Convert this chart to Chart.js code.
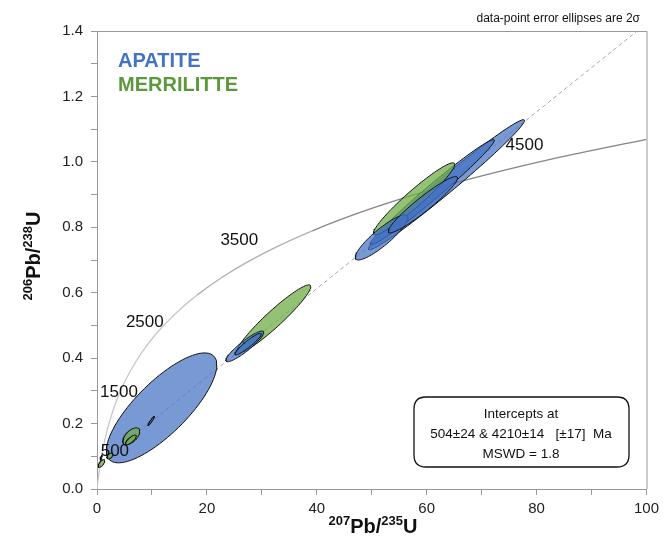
<!DOCTYPE html>
<html>
<head>
<meta charset="utf-8">
<script src="https://cdn.jsdelivr.net/npm/chart.js@4/dist/chart.umd.min.js"></script>
<style>
html,body{margin:0;padding:0;background:#fff;}
#wrap{width:664px;height:550px;position:relative;}
</style>
</head>
<body>
<div id="wrap"><canvas id="c" width="664" height="550"></canvas></div>
<script>
// ---- Data ----
// Concordia curve points (207Pb/235U, 206Pb/238U)
const concordiaX = [0, 0.1035, 0.2792, 0.6363, 1.0931, 1.6774, 2.4249, 3.3812, 4.6046, 6.1688, 8.1704, 10.7305, 14.006, 18.194, 23.553, 30.405, 39.175, 50.387, 64.733, 83.08, 100];
const concordiaY = [0, 0.01563, 0.03954, 0.08065, 0.12338, 0.16781, 0.21398, 0.26200, 0.31189, 0.36375, 0.41767, 0.47370, 0.53200, 0.59265, 0.65559, 0.72104, 0.78907, 0.85983, 0.93339, 1.00984, 1.0687];
// Age labels on concordia
const ageLabels = ['500', '1500', '2500', '3500', '4500'];
const ageLabelX = [3.25, 4.0, 8.7, 25.9, 77.8];
const ageLabelY = [0.116, 0.297, 0.511, 0.761, 1.052];
// Discordia (regression) line
const discordiaX = [0.64, 98.3];
const discordiaY = [0.081, 1.40];
// Apatite error ellipses: centre, half-extents, correlation
const apatiteX   = [11.75, 9.86, 26.9, 27.5, 63.6, 61.0, 51.8, 59.3, 0.75];
const apatiteY   = [0.248, 0.208, 0.436, 0.443, 0.930, 0.907, 0.769, 0.869, 0.095];
const apatiteSx  = [10.05, 0.6, 3.44, 2.4, 14.2, 11.3, 4.8, 6.3, 0.2];
const apatiteSy  = [0.168, 0.014, 0.047, 0.033, 0.199, 0.161, 0.069, 0.086, 0.008];
const apatiteRho = [0.78, 0.95, 0.909, 0.93, 0.987, 0.985, 0.884, 0.947, 0.8];
// Merrillite error ellipses
const merrX   = [32.2, 57.7, 6.24, 6.15, 2.35, 0.81];
const merrY   = [0.520, 0.887, 0.161, 0.150, 0.101, 0.078];
const merrSx  = [6.7, 7.4, 1.54, 1.0, 0.55, 0.6];
const merrSy  = [0.104, 0.110, 0.026, 0.015, 0.009, 0.012];
const merrRho = [0.948, 0.955, 0.6, 0.8, 0.5, 0.7];
// Draw order, bottom to top: [group, index]
const drawOrder = [['A',0],['M',2],['M',3],['M',4],['M',5],['A',1],['A',8],['M',0],['A',2],['A',3],['A',4],['A',5],['M',1],['A',6],['A',7]];

const blueFill = 'rgba(68,114,196,0.72)';
const greenFill = 'rgba(112,173,71,0.75)';

function ellipsePoints(cx, cy, sx, sy, rho) {
  const pts = [];
  const s = Math.sqrt(1 - rho * rho);
  for (let i = 0; i <= 90; i++) {
    const t = i / 90 * Math.PI * 2;
    pts.push({x: cx + sx * Math.cos(t), y: cy + sy * (rho * Math.cos(t) + s * Math.sin(t))});
  }
  return pts;
}

const datasets = [];
// Chart.js draws dataset index 0 last (on top) when order is equal, so insert reversed
drawOrder.slice().reverse().forEach(([g, i]) => {
  const isA = g === 'A';
  const pts = isA ? ellipsePoints(apatiteX[i], apatiteY[i], apatiteSx[i], apatiteSy[i], apatiteRho[i])
                  : ellipsePoints(merrX[i], merrY[i], merrSx[i], merrSy[i], merrRho[i]);
  datasets.push({
    type: 'line', data: pts, showLine: true, fill: 'shape',
    backgroundColor: isA ? blueFill : greenFill,
    borderColor: '#111', borderWidth: 1, pointRadius: 0, tension: 0, order: 1
  });
});
// concordia and discordia drawn beneath ellipses
datasets.push({
  type: 'line', data: concordiaX.map((x, i) => ({x, y: concordiaY[i]})),
  showLine: true, fill: false, borderWidth: 1.3, pointRadius: 0, cubicInterpolationMode: 'monotone',
  borderColor: '#999',
  segment: { borderColor: c => (c.p0.parsed.x >= 35 ? '#858585' : (c.p0.parsed.x >= 18 ? '#b0b0b0' : '#c8c8c8')) },
  order: 3
});
datasets.push({
  type: 'line', data: discordiaX.map((x, i) => ({x, y: discordiaY[i]})),
  showLine: true, fill: false, borderWidth: 1, borderDash: [4, 3], pointRadius: 0,
  borderColor: '#a8a8a8', order: 2
});

const FONT = '"Liberation Sans", Arial, sans-serif';

const overlay = {
  id: 'overlay',
  afterDatasetsDraw(chart) {
    const ctx = chart.ctx, xs = chart.scales.x, ys = chart.scales.y, a = chart.chartArea;
    ctx.save();
    // frame top/right
    ctx.strokeStyle = '#999'; ctx.lineWidth = 1;
    ctx.beginPath();
    ctx.moveTo(a.left, a.top + 0.5); ctx.lineTo(a.right + 0.5, a.top + 0.5); ctx.lineTo(a.right + 0.5, a.bottom);
    ctx.stroke();
    // age labels
    ctx.fillStyle = '#111'; ctx.font = '17px ' + FONT; ctx.textAlign = 'center'; ctx.textBaseline = 'middle';
    ageLabels.forEach((t, i) => ctx.fillText(t, xs.getPixelForValue(ageLabelX[i]), ys.getPixelForValue(ageLabelY[i])));
    // legend-like titles
    ctx.textAlign = 'left'; ctx.textBaseline = 'alphabetic';
    ctx.font = 'bold 20px ' + FONT;
    ctx.fillStyle = '#4472C4'; ctx.fillText('APATITE', 118, 67);
    ctx.fillStyle = '#5B9A3C'; ctx.fillText('MERRILITTE', 118, 91);
    // top note
    ctx.fillStyle = '#111'; ctx.font = '12px ' + FONT; ctx.textAlign = 'right';
    ctx.fillText('data-point error ellipses are 2\u03C3', 640, 22);
    // intercept box
    const bx = 414, by = 397, bw = 215, bh = 70, r = 12;
    ctx.fillStyle = '#fff'; ctx.strokeStyle = '#111'; ctx.lineWidth = 1.3;
    ctx.beginPath();
    ctx.moveTo(bx + r, by); ctx.lineTo(bx + bw - r, by); ctx.quadraticCurveTo(bx + bw, by, bx + bw, by + r);
    ctx.lineTo(bx + bw, by + bh - r); ctx.quadraticCurveTo(bx + bw, by + bh, bx + bw - r, by + bh);
    ctx.lineTo(bx + r, by + bh); ctx.quadraticCurveTo(bx, by + bh, bx, by + bh - r);
    ctx.lineTo(bx, by + r); ctx.quadraticCurveTo(bx, by, bx + r, by); ctx.closePath();
    ctx.fill(); ctx.stroke();
    ctx.fillStyle = '#111'; ctx.font = '13.5px ' + FONT; ctx.textAlign = 'center'; ctx.textBaseline = 'middle';
    ctx.fillText('Intercepts at', 521, 414);
    ctx.fillText('504\u00B124 & 4210\u00B114   [\u00B117]  Ma', 521, 434);
    ctx.fillText('MSWD = 1.8', 521, 454);
    // axis titles with superscripts
    function supTitle(parts, cx, cy) {
      ctx.textBaseline = 'alphabetic'; ctx.textAlign = 'left';
      const f = p => (p.sup ? 'bold 13px ' : 'bold 20px ') + FONT;
      let w = 0;
      parts.forEach(p => { ctx.font = f(p); w += ctx.measureText(p.t).width; });
      let x = cx - w / 2;
      parts.forEach(p => {
        ctx.font = f(p);
        ctx.fillText(p.t, x, p.sup ? cy - 8 : cy);
        x += ctx.measureText(p.t).width;
      });
    }
    ctx.fillStyle = '#111';
    const parts207 = [{t: '207', sup: true}, {t: 'Pb/'}, {t: '235', sup: true}, {t: 'U'}];
    const parts206 = [{t: '206', sup: true}, {t: 'Pb/'}, {t: '238', sup: true}, {t: 'U'}];
    supTitle(parts207, 373, 533);
    ctx.save();
    ctx.translate(40, 256); ctx.rotate(-Math.PI / 2);
    supTitle(parts206, 0, 0);
    ctx.restore();
    ctx.restore();
  }
};

new Chart(document.getElementById('c'), {
  type: 'scatter',
  data: { datasets },
  options: {
    responsive: false, animation: false,
    layout: { padding: { top: 31, right: 14, left: 0, bottom: 0 } },
    plugins: { legend: { display: false }, tooltip: { enabled: false } },
    elements: { point: { radius: 0 } },
    scales: {
      x: {
        type: 'linear', min: 0, max: 100,
        afterFit: s => { s.height = 61; },
        grid: { drawOnChartArea: false, drawTicks: true, tickLength: 6, color: '#999' },
        border: { color: '#999' },
        ticks: { stepSize: 10, padding: 5, color: '#222', font: { size: 15, family: FONT },
          callback: v => (Math.round(v) % 20 === 0 ? String(v) : '') }
      },
      y: {
        type: 'linear', min: 0, max: 1.4,
        afterFit: s => { s.width = 97; },
        grid: { drawOnChartArea: false, drawTicks: true, tickLength: 6, color: '#999' },
        border: { color: '#999' },
        ticks: { stepSize: 0.1, padding: 8, color: '#222', font: { size: 15, family: FONT },
          callback: v => (Math.round(v * 10) % 2 === 0 ? v.toFixed(1) : '') }
      }
    }
  },
  plugins: [overlay]
});
</script>
</body>
</html>
